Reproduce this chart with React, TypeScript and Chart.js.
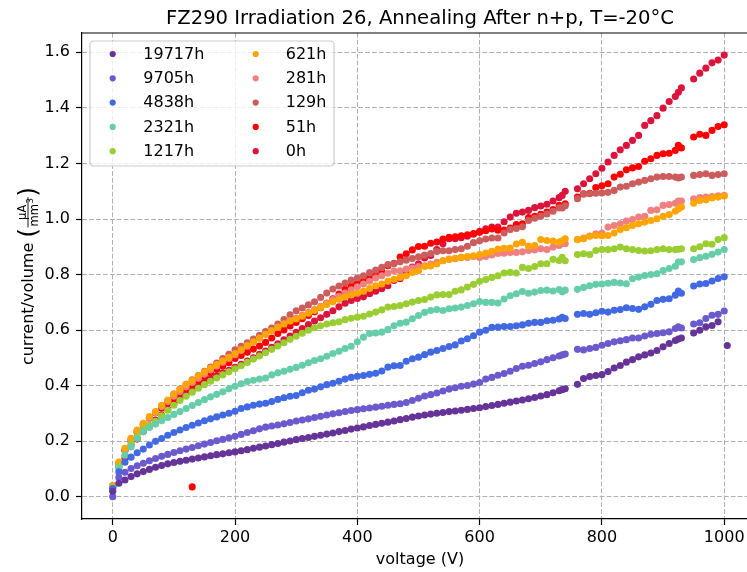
import React, { useEffect, useRef } from "react";
import { Chart, registerables } from "chart.js";

Chart.register(...registerables);

const FONT = '"DejaVu Sans", "Liberation Sans", sans-serif';

const voltages = [
  0, 10, 20, 30, 40, 50, 60, 70, 80, 90,
  100, 110, 120, 130, 140, 150, 160, 170, 180, 190,
  200, 210, 220, 230, 240, 250, 260, 270, 280, 290,
  300, 310, 320, 330, 340, 350, 360, 370, 380, 390,
  400, 410, 420, 430, 440, 450, 460, 470, 480, 490,
  500, 510, 520, 530, 540, 550, 560, 570, 580, 590,
  600, 610, 620, 630, 640, 650, 660, 670, 680, 690,
  700, 710, 720, 730, 735, 740,
  760, 770, 780, 790, 800, 810, 820, 830, 840, 850, 860, 870, 880, 890, 900, 910, 920, 925, 930,
  950, 960, 970, 980, 990, 1000,
];
// the longest annealing run ends with one reading at 1005 V instead of 1000 V
const voltages19717h = voltages.slice(0, -1).concat([1005]);

const seriesLabels = ["19717h", "9705h", "4838h", "2321h", "1217h", "621h", "281h", "129h", "51h", "0h"];
const seriesColors = ["#663399", "#6a5acd", "#4169e1", "#66cdaa", "#9acd32", "#ffa500", "#f08080", "#cd5c5c", "#ff0000", "#dc143c"];

const cur19717h = [
  0.020, 0.049, 0.061, 0.073, 0.083, 0.091, 0.099, 0.107, 0.113, 0.119,
  0.124, 0.128, 0.132, 0.136, 0.140, 0.144, 0.148, 0.152, 0.155, 0.159,
  0.162, 0.166, 0.170, 0.175, 0.179, 0.183, 0.188, 0.192, 0.197, 0.201,
  0.206, 0.210, 0.214, 0.218, 0.222, 0.226, 0.230, 0.235, 0.239, 0.244,
  0.248, 0.252, 0.257, 0.261, 0.265, 0.269, 0.273, 0.278, 0.282, 0.287,
  0.291, 0.295, 0.298, 0.301, 0.304, 0.307, 0.309, 0.312, 0.315, 0.318,
  0.321, 0.325, 0.329, 0.333, 0.337, 0.341, 0.345, 0.349, 0.353, 0.358,
  0.363, 0.368, 0.375, 0.382, 0.386, 0.389,
  0.405, 0.426, 0.433, 0.437, 0.440, 0.451, 0.464, 0.473, 0.485, 0.494, 0.504, 0.511, 0.518, 0.527, 0.540, 0.552, 0.563, 0.568, 0.572,
  0.590, 0.600, 0.612, 0.617, 0.630, 0.545,
];
const cur9705h = [
  0.001, 0.070, 0.089, 0.102, 0.112, 0.121, 0.130, 0.138, 0.146, 0.153,
  0.160, 0.166, 0.172, 0.178, 0.184, 0.190, 0.196, 0.202, 0.207, 0.213,
  0.218, 0.225, 0.232, 0.238, 0.245, 0.251, 0.255, 0.259, 0.263, 0.268,
  0.273, 0.277, 0.281, 0.286, 0.290, 0.295, 0.299, 0.303, 0.307, 0.311,
  0.314, 0.317, 0.320, 0.323, 0.326, 0.330, 0.333, 0.335, 0.340, 0.347,
  0.355, 0.363, 0.368, 0.374, 0.381, 0.388, 0.393, 0.398, 0.401, 0.406,
  0.412, 0.424, 0.430, 0.438, 0.444, 0.452, 0.462, 0.470, 0.474, 0.480,
  0.486, 0.494, 0.501, 0.507, 0.511, 0.514,
  0.531, 0.529, 0.534, 0.538, 0.546, 0.552, 0.558, 0.562, 0.566, 0.572, 0.572, 0.579, 0.585, 0.588, 0.591, 0.594, 0.606, 0.612, 0.608,
  0.622, 0.627, 0.642, 0.654, 0.657, 0.669,
];
const cur4838h = [
  0.030, 0.090, 0.125, 0.143, 0.159, 0.172, 0.187, 0.200, 0.210, 0.222,
  0.232, 0.241, 0.250, 0.258, 0.266, 0.274, 0.281, 0.288, 0.295, 0.301,
  0.308, 0.318, 0.324, 0.330, 0.334, 0.337, 0.343, 0.351, 0.357, 0.362,
  0.365, 0.375, 0.384, 0.388, 0.396, 0.404, 0.409, 0.416, 0.424, 0.430,
  0.434, 0.437, 0.441, 0.445, 0.453, 0.467, 0.472, 0.473, 0.488, 0.497,
  0.503, 0.512, 0.521, 0.527, 0.534, 0.541, 0.547, 0.561, 0.569, 0.580,
  0.593, 0.600, 0.610, 0.611, 0.613, 0.613, 0.616, 0.619, 0.625, 0.628,
  0.628, 0.634, 0.636, 0.640, 0.646, 0.642,
  0.657, 0.660, 0.657, 0.663, 0.668, 0.665, 0.672, 0.674, 0.681, 0.678, 0.675, 0.684, 0.693, 0.707, 0.711, 0.713, 0.726, 0.741, 0.733,
  0.759, 0.766, 0.768, 0.777, 0.786, 0.792,
];
const cur2321h = [
  0.030, 0.105, 0.150, 0.180, 0.210, 0.235, 0.250, 0.262, 0.274, 0.286,
  0.297, 0.307, 0.318, 0.329, 0.340, 0.350, 0.360, 0.369, 0.378, 0.389,
  0.398, 0.407, 0.415, 0.420, 0.424, 0.428, 0.439, 0.447, 0.452, 0.459,
  0.466, 0.474, 0.483, 0.491, 0.497, 0.506, 0.516, 0.524, 0.534, 0.542,
  0.558, 0.575, 0.588, 0.590, 0.593, 0.602, 0.616, 0.625, 0.629, 0.641,
  0.653, 0.664, 0.671, 0.674, 0.671, 0.677, 0.680, 0.683, 0.689, 0.695,
  0.703, 0.700, 0.700, 0.698, 0.712, 0.724, 0.731, 0.739, 0.733, 0.737,
  0.743, 0.744, 0.741, 0.746, 0.738, 0.744,
  0.747, 0.754, 0.760, 0.765, 0.766, 0.769, 0.772, 0.770, 0.767, 0.785, 0.791, 0.797, 0.800, 0.803, 0.815, 0.822, 0.830, 0.845, 0.846,
  0.854, 0.861, 0.866, 0.873, 0.881, 0.890,
];
const cur1217h = [
  0.035, 0.110, 0.150, 0.190, 0.218, 0.244, 0.258, 0.272, 0.292, 0.312,
  0.330, 0.347, 0.362, 0.377, 0.391, 0.404, 0.416, 0.428, 0.439, 0.450,
  0.461, 0.472, 0.484, 0.496, 0.507, 0.519, 0.531, 0.543, 0.555, 0.567,
  0.578, 0.589, 0.600, 0.609, 0.616, 0.622, 0.627, 0.630, 0.638, 0.643,
  0.647, 0.650, 0.658, 0.665, 0.673, 0.683, 0.685, 0.689, 0.695, 0.701,
  0.707, 0.710, 0.719, 0.727, 0.728, 0.728, 0.740, 0.745, 0.755, 0.765,
  0.776, 0.782, 0.790, 0.796, 0.806, 0.808, 0.806, 0.826, 0.822, 0.829,
  0.839, 0.839, 0.855, 0.851, 0.862, 0.850,
  0.872, 0.875, 0.872, 0.887, 0.890, 0.890, 0.893, 0.899, 0.893, 0.890, 0.887, 0.885, 0.886, 0.890, 0.893, 0.890, 0.890, 0.891, 0.893,
  0.893, 0.900, 0.911, 0.909, 0.926, 0.933,
];
const cur621h = [
  0.040, 0.125, 0.175, 0.211, 0.241, 0.265, 0.289, 0.307, 0.330, 0.349,
  0.370, 0.387, 0.405, 0.420, 0.436, 0.450, 0.464, 0.476, 0.490, 0.502,
  0.516, 0.530, 0.545, 0.558, 0.572, 0.585, 0.598, 0.610, 0.622, 0.633,
  0.640, 0.650, 0.661, 0.671, 0.682, 0.692, 0.702, 0.711, 0.720, 0.727,
  0.733, 0.740, 0.750, 0.760, 0.766, 0.776, 0.783, 0.790, 0.796, 0.808,
  0.814, 0.829, 0.831, 0.838, 0.850, 0.854, 0.859, 0.862, 0.865, 0.868,
  0.872, 0.878, 0.884, 0.892, 0.895, 0.896, 0.910, 0.916, 0.903, 0.905,
  0.926, 0.923, 0.921, 0.917, 0.922, 0.929,
  0.926, 0.929, 0.938, 0.941, 0.940, 0.941, 0.950, 0.962, 0.969, 0.977, 0.983, 0.989, 0.995, 1.001, 1.010, 1.016, 1.028, 1.036, 1.043,
  1.057, 1.067, 1.069, 1.076, 1.079, 1.083,
];
const cur281h = [
  0.040, 0.115, 0.165, 0.205, 0.235, 0.260, 0.283, 0.303, 0.325, 0.343,
  0.362, 0.379, 0.396, 0.412, 0.427, 0.442, 0.457, 0.471, 0.485, 0.498,
  0.512, 0.527, 0.542, 0.557, 0.571, 0.585, 0.598, 0.611, 0.623, 0.634,
  0.644, 0.654, 0.664, 0.674, 0.686, 0.698, 0.710, 0.722, 0.734, 0.745,
  0.756, 0.766, 0.776, 0.788, 0.796, 0.805, 0.814, 0.814, 0.820, 0.824,
  0.829, 0.832, 0.838, 0.844, 0.850, 0.856, 0.857, 0.862, 0.862, 0.865,
  0.862, 0.865, 0.871, 0.876, 0.877, 0.880, 0.880, 0.882, 0.887, 0.889,
  0.893, 0.890, 0.899, 0.905, 0.911, 0.911,
  0.926, 0.932, 0.939, 0.947, 0.950, 0.971, 0.977, 0.983, 0.993, 0.998, 1.007, 1.010, 1.031, 1.033, 1.049, 1.052, 1.057, 1.065, 1.065,
  1.073, 1.077, 1.079, 1.081, 1.084, 1.085,
];
const cur129h = [
  0.040, 0.120, 0.170, 0.208, 0.238, 0.262, 0.286, 0.305, 0.327, 0.346,
  0.370, 0.388, 0.405, 0.421, 0.437, 0.452, 0.467, 0.482, 0.498, 0.513,
  0.529, 0.542, 0.555, 0.568, 0.582, 0.595, 0.608, 0.622, 0.638, 0.655,
  0.670, 0.680, 0.691, 0.702, 0.718, 0.734, 0.748, 0.759, 0.770, 0.780,
  0.788, 0.796, 0.807, 0.816, 0.826, 0.836, 0.840, 0.846, 0.852, 0.858,
  0.864, 0.870, 0.876, 0.883, 0.886, 0.886, 0.890, 0.893, 0.902, 0.915,
  0.922, 0.928, 0.932, 0.932, 0.950, 0.962, 0.966, 0.972, 0.995, 1.003,
  1.010, 1.018, 1.028, 1.040, 1.040, 1.048,
  1.073, 1.089, 1.091, 1.093, 1.094, 1.096, 1.103, 1.115, 1.118, 1.127, 1.133, 1.139, 1.145, 1.151, 1.153, 1.153, 1.151, 1.148, 1.151,
  1.157, 1.160, 1.163, 1.157, 1.160, 1.163,
];
const cur51h = [
  0.040, 0.121, 0.168, 0.201, 0.233, 0.258, 0.283, 0.303, 0.319, 0.337,
  0.354, 0.370, 0.387, 0.401, 0.418, 0.432, 0.447, 0.459, 0.471, 0.483,
  0.498, 0.509, 0.521, 0.532, 0.543, 0.556, 0.572, 0.588, 0.601, 0.615,
  0.628, 0.641, 0.653, 0.666, 0.681, 0.697, 0.713, 0.730, 0.747, 0.760,
  0.769, 0.778, 0.789, 0.800, 0.812, 0.832, 0.841, 0.863, 0.875, 0.889,
  0.901, 0.902, 0.913, 0.917, 0.928, 0.934, 0.936, 0.940, 0.943, 0.948,
  0.952, 0.958, 0.964, 0.960, 0.960, 0.968, 0.980, 0.983, 1.005, 1.010,
  1.017, 1.025, 1.034, 1.049, 1.043, 1.055,
  1.079, 1.091, 1.093, 1.113, 1.120, 1.127, 1.151, 1.161, 1.177, 1.184, 1.189, 1.208, 1.217, 1.229, 1.235, 1.237, 1.247, 1.265, 1.256,
  1.295, 1.305, 1.301, 1.319, 1.333, 1.339,
];
// a single low reading of the 51h run
const outlier51hV = [130];
const outlier51hI = [0.036];
const cur0h = [
  0.037, 0.107, 0.139, 0.187, 0.208, 0.235, 0.253, 0.277, 0.295, 0.315,
  0.334, 0.354, 0.370, 0.384, 0.399, 0.412, 0.424, 0.436, 0.447, 0.456,
  0.466, 0.477, 0.489, 0.501, 0.513, 0.525, 0.538, 0.551, 0.565, 0.579,
  0.592, 0.606, 0.620, 0.633, 0.645, 0.657, 0.670, 0.684, 0.697, 0.707,
  0.714, 0.720, 0.731, 0.740, 0.749, 0.760, 0.779, 0.785, 0.805, 0.827,
  0.839, 0.860, 0.869, 0.890, 0.911, 0.929, 0.929, 0.933, 0.938, 0.945,
  0.956, 0.965, 0.971, 0.971, 0.990, 1.007, 1.021, 1.025, 1.031, 1.041,
  1.047, 1.053, 1.065, 1.077, 1.085, 1.100,
  1.109, 1.127, 1.145, 1.163, 1.183, 1.205, 1.229, 1.249, 1.265, 1.283, 1.301, 1.337, 1.354, 1.372, 1.399, 1.423, 1.441, 1.456, 1.472,
  1.504, 1.525, 1.543, 1.562, 1.572, 1.590,
];

const seriesValues = [cur19717h, cur9705h, cur4838h, cur2321h, cur1217h, cur621h, cur281h, cur129h, cur51h, cur0h];
const seriesVoltages = [voltages19717h, voltages, voltages, voltages, voltages, voltages, voltages, voltages, voltages, voltages];

const xTicks = [0, 200, 400, 600, 800, 1000];
const yTicks = [0, 0.2, 0.4, 0.6, 0.8, 1.0, 1.2, 1.4, 1.6];

const titleText = "FZ290 Irradiation 26, Annealing After n+p, T=-20°C";
const xLabelText = "voltage (V)";

function buildDatasets() {
  return seriesLabels.map((label, i) => {
    const pts = seriesVoltages[i].map((v, j) => ({ x: v, y: seriesValues[i][j] }));
    if (label === "51h") {
      outlier51hV.forEach((v, k) => pts.push({ x: v, y: outlier51hI[k] }));
    }
    return {
      label,
      data: pts,
      backgroundColor: seriesColors[i],
      borderColor: seriesColors[i],
      pointRadius: 3.55,
      pointBorderWidth: 0,
      pointHoverRadius: 3.55,
      showLine: false,
    };
  });
}

const decorPlugin = {
  id: "decor",
  afterDraw(chart: any) {
    const ctx = chart.ctx as CanvasRenderingContext2D;
    const a = chart.chartArea;
    ctx.save();
    // top and right spines
    ctx.strokeStyle = "#000";
    ctx.lineWidth = 1.2;
    ctx.beginPath();
    ctx.moveTo(a.left, a.top);
    ctx.lineTo(a.right, a.top);
    ctx.lineTo(a.right, a.bottom);
    ctx.stroke();

    // title
    const cx = (a.left + a.right) / 2;
    ctx.fillStyle = "#000";
    ctx.textAlign = "center";
    ctx.textBaseline = "alphabetic";
    ctx.font = `19.6px ${FONT}`;
    ctx.fillText(titleText, cx, 23.5);

    // x label
    ctx.font = `16px ${FONT}`;
    ctx.fillText(xLabelText, cx, 564);

    // y label with fraction
    ctx.save();
    ctx.translate(33, (a.top + a.bottom) / 2);
    ctx.rotate(-Math.PI / 2);
    ctx.textAlign = "left";
    const mainF = `16px ${FONT}`;
    const smallF = `11.5px ${FONT}`;
    const supF = `8.5px ${FONT}`;
    const parF = `25px ${FONT}`;
    ctx.font = mainF;
    const w1 = ctx.measureText("current/volume").width;
    const gap = 5;
    ctx.font = parF;
    const wp = ctx.measureText("(").width;
    ctx.font = smallF;
    const wNum = ctx.measureText("μA").width;
    const wMM = ctx.measureText("mm").width;
    ctx.font = supF;
    const w3 = ctx.measureText("3").width;
    const wDen = wMM + w3 + 0.5;
    const wf = Math.max(wNum, wDen) + 3;
    const total = w1 + gap + wp + wf + wp;
    let x = -total / 2;
    ctx.font = mainF;
    ctx.fillText("current/volume", x, 0);
    x += w1 + gap;
    ctx.font = parF;
    ctx.fillText("(", x, 3);
    x += wp;
    const axisY = -5;
    ctx.fillRect(x + 0.5, axisY - 0.45, wf - 1, 0.9);
    ctx.font = smallF;
    ctx.fillText("μA", x + (wf - wNum) / 2, axisY - 2.5);
    const dx = x + (wf - wDen) / 2;
    ctx.fillText("mm", dx, axisY + 9.5);
    ctx.font = supF;
    ctx.fillText("3", dx + wMM + 0.5, axisY + 5);
    x += wf;
    ctx.font = parF;
    ctx.fillText(")", x, 3);
    ctx.restore();

    // legend
    const bx = 90, by = 41, bw = 244, bh = 125, r = 4;
    ctx.beginPath();
    ctx.moveTo(bx + r, by);
    ctx.lineTo(bx + bw - r, by);
    ctx.quadraticCurveTo(bx + bw, by, bx + bw, by + r);
    ctx.lineTo(bx + bw, by + bh - r);
    ctx.quadraticCurveTo(bx + bw, by + bh, bx + bw - r, by + bh);
    ctx.lineTo(bx + r, by + bh);
    ctx.quadraticCurveTo(bx, by + bh, bx, by + bh - r);
    ctx.lineTo(bx, by + r);
    ctx.quadraticCurveTo(bx, by, bx + r, by);
    ctx.closePath();
    ctx.fillStyle = "rgba(255,255,255,0.8)";
    ctx.fill();
    ctx.strokeStyle = "#cccccc";
    ctx.lineWidth = 1.2;
    ctx.stroke();

    const markerX = [112.7, 255.7];
    const textX = [143.3, 285.7];
    const rowY = [54, 78.3, 102.6, 126.9, 151.2];
    ctx.font = `16px ${FONT}`;
    ctx.textBaseline = "middle";
    ctx.textAlign = "left";
    seriesLabels.forEach((label, i) => {
      const col = i < 5 ? 0 : 1;
      const row = i % 5;
      ctx.fillStyle = seriesColors[i];
      ctx.beginPath();
      ctx.arc(markerX[col], rowY[row], 3.1, 0, Math.PI * 2);
      ctx.fill();
      ctx.fillStyle = "#000";
      ctx.fillText(label, textX[col], rowY[row] + 0.5);
    });
    ctx.restore();
  },
};

const gridCommon = {
  color: "#b0b0b0",
  lineWidth: 1,
  tickLength: 6,
  tickColor: "#000",
  tickWidth: 1.2,
  tickBorderDash: [],
};
const borderCommon = {
  display: true,
  color: "#000",
  width: 1.2,
  dash: [4.8, 2.1],
};

export default function App() {
  const canvasRef = useRef<HTMLCanvasElement | null>(null);

  useEffect(() => {
    const canvas = canvasRef.current;
    if (!canvas) return;
    const chart = new Chart(canvas, {
      type: "scatter",
      data: { datasets: buildDatasets() as any },
      options: {
        animation: false,
        responsive: false,
        devicePixelRatio: 1,
        events: [],
        layout: { autoPadding: false, padding: { top: 33, left: 0, right: 0, bottom: 0 } },
        plugins: {
          legend: { display: false },
          title: { display: false },
          tooltip: { enabled: false },
        },
        scales: {
          x: {
            type: "linear",
            min: -50.25,
            max: 1055.25,
            afterBuildTicks: (s: any) => {
              s.ticks = xTicks.map((v) => ({ value: v }));
            },
            afterFit: (s: any) => {
              s.height = 53;
            },
            ticks: {
              autoSkip: false,
              maxRotation: 0,
              color: "#000",
              padding: 3,
              font: { family: FONT, size: 16 },
              callback: (v: any) => String(v),
            },
            grid: gridCommon as any,
            border: borderCommon as any,
          },
          y: {
            type: "linear",
            min: -0.0795,
            max: 1.6695,
            afterBuildTicks: (s: any) => {
              s.ticks = yTicks.map((v) => ({ value: v }));
            },
            afterFit: (s: any) => {
              s.width = 82;
            },
            ticks: {
              autoSkip: false,
              color: "#000",
              padding: 6,
              font: { family: FONT, size: 16 },
              callback: (v: any) => Number(v).toFixed(1),
            },
            grid: gridCommon as any,
            border: borderCommon as any,
          },
        },
      },
      plugins: [decorPlugin],
    });
    return () => chart.destroy();
  }, []);

  return (
    <div
      style={{
        position: "fixed",
        left: 0,
        top: 0,
        width: 747,
        height: 572,
        overflow: "hidden",
        background: "#fff",
      }}
    >
      <canvas ref={canvasRef} width={758} height={572} style={{ display: "block" }} />
    </div>
  );
}
